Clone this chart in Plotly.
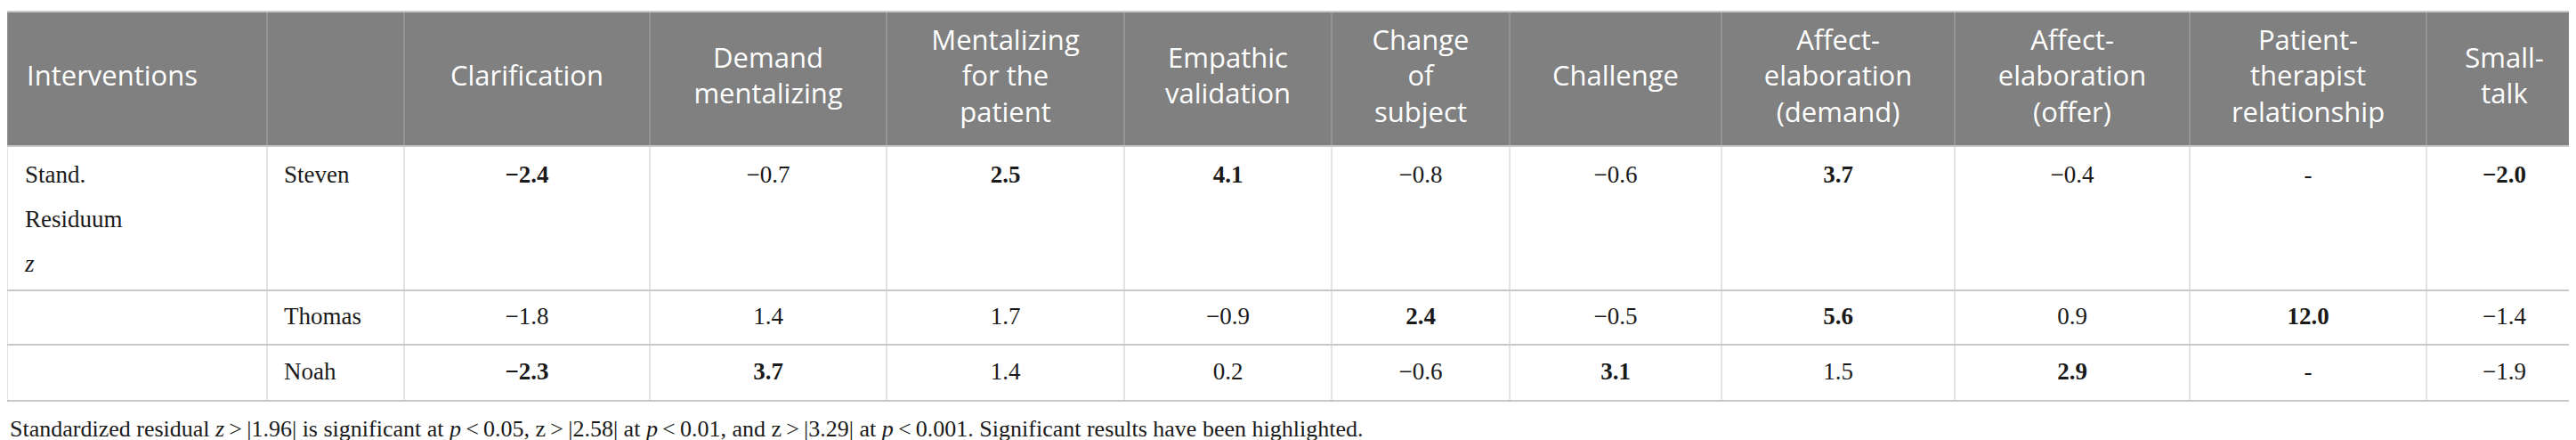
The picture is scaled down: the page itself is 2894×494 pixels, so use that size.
import plotly.graph_objects as go

# ---------------- data ----------------
corner_label = "Interventions"
header_labels = ["Clarification", "Demand<br>mentalizing", "Mentalizing<br>for the<br>patient",
                 "Empathic<br>validation", "Change<br>of<br>subject", "Challenge",
                 "Affect-<br>elaboration<br>(demand)", "Affect-<br>elaboration<br>(offer)",
                 "Patient-<br>therapist<br>relationship", "Small-<br>talk"]
patients = ["Steven", "Thomas", "Noah"]
steven = [-2.4, -0.7, 2.5, 4.1, -0.8, -0.6, 3.7, -0.4, None, -2.0]
thomas = [-1.8, 1.4, 1.7, -0.9, 2.4, -0.5, 5.6, 0.9, 12.0, -1.4]
noah = [-2.3, 3.7, 1.4, 0.2, -0.6, 3.1, 1.5, 2.9, None, -1.9]
row_label_lines = ["Stand.", "Residuum", "<i>z</i>"]
sig_threshold = 1.96
footnote = ("Standardized residual <i>z</i>\u2009&gt;\u2009|1.96| is significant at <i>p</i>\u2009&lt;\u20090.05, "
            "z\u2009&gt;\u2009|2.58| at <i>p</i>\u2009&lt;\u20090.01, and z\u2009&gt;\u2009|3.29| at "
            "<i>p</i>\u2009&lt;\u20090.001. Significant results have been highlighted.")

# ---------------- layout geometry ----------------
W, H = 2894, 494
col_edges = [0, 292, 446, 722, 988, 1255, 1488, 1688, 1926, 2188, 2452, 2718, 2893]
row_edges = [5, 156, 318, 379, 442]
header_y = 80.5
row_text_y = [190, 349, 411]
label_line_gap = 50
HEADER_BG = "#7f807f"
LINE = "#c8c8c8"
HEADER_LINE = "#a8a8a8"
TEXT = "#1a1a1a"
SANS = "Open Sans"
SERIF = "Liberation Serif"


def fmt(v):
    if v is None:
        return "-"
    s = f"{v:.1f}".replace("-", "\u2212")
    return f"<b>{s}</b>" if abs(v) > sig_threshold else s


fig = go.Figure()

shapes = []
# header background
shapes.append(dict(type="rect", xref="x", yref="y", x0=col_edges[0], x1=col_edges[-1],
                   y0=row_edges[0], y1=row_edges[1], fillcolor=HEADER_BG, line=dict(width=0), layer="below"))
# vertical lines
for xe in col_edges:
    shapes.append(dict(type="line", xref="x", yref="y", x0=xe, x1=xe, y0=row_edges[0], y1=row_edges[1],
                       line=dict(color=HEADER_LINE, width=1)))
    shapes.append(dict(type="line", xref="x", yref="y", x0=xe, x1=xe, y0=row_edges[1], y1=row_edges[-1],
                       line=dict(color=LINE, width=1)))
# horizontal lines
for ye in row_edges:
    shapes.append(dict(type="line", xref="x", yref="y", x0=col_edges[0], x1=col_edges[-1], y0=ye, y1=ye,
                       line=dict(color=LINE, width=2)))

centers = [(col_edges[i] + col_edges[i + 1]) / 2 for i in range(2, len(col_edges) - 1)]

# header texts
fig.add_trace(go.Scatter(x=centers, y=[header_y] * len(centers), mode="text", text=header_labels,
                         textposition="middle center", textfont=dict(family=SANS, size=31, color="white"),
                         hoverinfo="skip", showlegend=False))
fig.add_trace(go.Scatter(x=[col_edges[0] + 22], y=[header_y], mode="text", text=[corner_label],
                         textposition="middle right", textfont=dict(family=SANS, size=31, color="white"),
                         hoverinfo="skip", showlegend=False))

# row label (three lines)
fig.add_trace(go.Scatter(x=[col_edges[0] + 20] * len(row_label_lines),
                         y=[row_text_y[0] + i * label_line_gap for i in range(len(row_label_lines))],
                         mode="text", text=row_label_lines, textposition="middle right",
                         textfont=dict(family=SERIF, size=27, color=TEXT), hoverinfo="skip", showlegend=False))
# patient names
fig.add_trace(go.Scatter(x=[col_edges[1] + 19] * len(patients), y=row_text_y, mode="text", text=patients,
                         textposition="middle right", textfont=dict(family=SERIF, size=27, color=TEXT),
                         hoverinfo="skip", showlegend=False))
# values
for vals, yv in zip([steven, thomas, noah], row_text_y):
    fig.add_trace(go.Scatter(x=centers, y=[yv] * len(vals), mode="text", text=[fmt(v) for v in vals],
                             textposition="middle center", textfont=dict(family=SERIF, size=27, color=TEXT),
                             hoverinfo="skip", showlegend=False))

annotations = [dict(x=col_edges[0] + 1, y=473, xref="x", yref="y", text=footnote, showarrow=False,
                    xanchor="left", yanchor="middle", font=dict(family=SERIF, size=26, color=TEXT))]

fig.update_layout(
    width=W, height=H, margin=dict(l=0, r=0, t=0, b=0),
    paper_bgcolor="white", plot_bgcolor="white",
    xaxis=dict(range=[0, W], visible=False, fixedrange=True),
    yaxis=dict(range=[H, 0], visible=False, fixedrange=True),
    shapes=shapes, annotations=annotations,
)

fig.write_html("out.html")
